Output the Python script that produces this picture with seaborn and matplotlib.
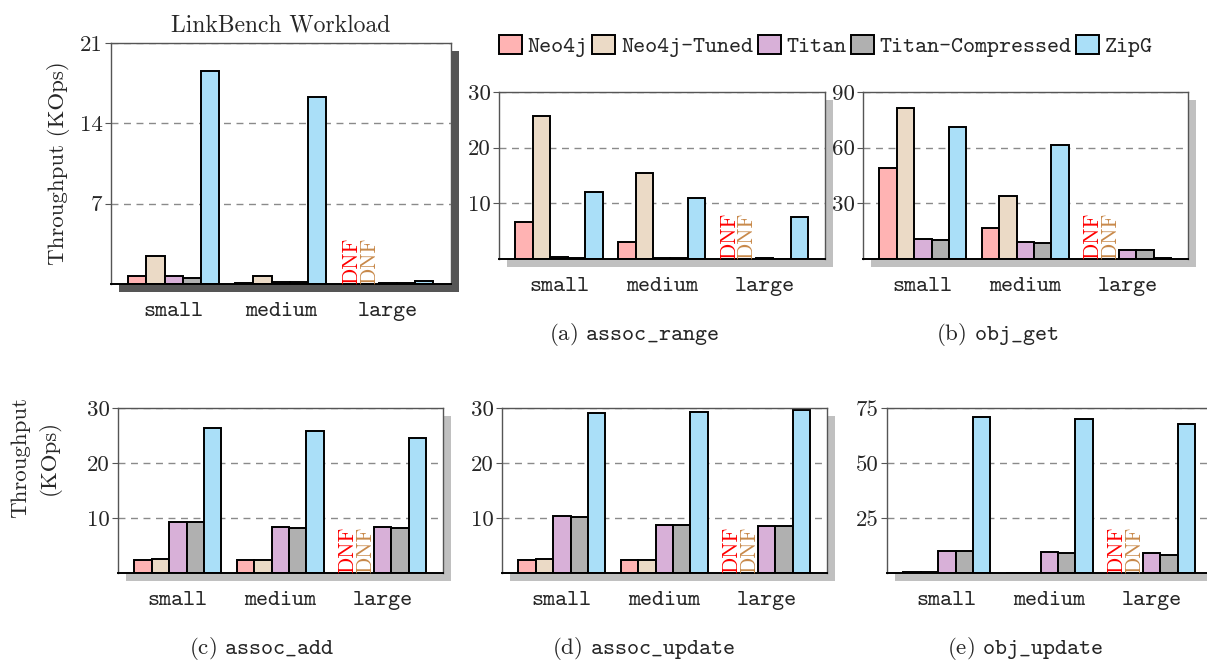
import numpy as np
import pandas as pd
import matplotlib
matplotlib.use("Agg")
import matplotlib.pyplot as plt
from matplotlib.patches import Rectangle, Patch
import seaborn as sns

NaN = np.nan
categories = ["small", "medium", "large"]
systems = ["Neo4j", "Neo4j-Tuned", "Titan", "Titan-Compressed", "ZipG"]
colors = ["#FFB3B3", "#EBDAC6", "#D8B0D8", "#B0B0B0", "#AADFF8"]

# values per system (rows) over categories (columns); NaN = DNF
linkbench = [[0.72, 0.10, NaN],
             [2.47, 0.67, NaN],
             [0.67, 0.17, 0.10],
             [0.55, 0.15, 0.06],
             [18.55, 16.3, 0.26]]
assoc_range = [[6.66, 3.1, NaN],
               [25.7, 15.5, NaN],
               [0.30, 0.18, 0.10],
               [0.24, 0.12, 0.08],
               [12.1, 10.9, 7.56]]
obj_get = [[49.0, 16.6, NaN],
           [81.2, 33.8, NaN],
           [10.8, 9.0, 4.9],
           [10.3, 8.6, 4.9],
           [70.9, 61.4, 0.36]]
assoc_add = [[2.35, 2.30, NaN],
             [2.47, 2.30, NaN],
             [9.35, 8.45, 8.45],
             [9.35, 8.10, 8.10],
             [26.3, 25.8, 24.6]]
assoc_update = [[2.40, 2.30, NaN],
                [2.50, 2.30, NaN],
                [10.4, 8.70, 8.60],
                [10.1, 8.80, 8.55],
                [29.1, 29.3, 29.6]]
obj_update = [[0.30, 0.20, NaN],
              [0.30, 0.20, NaN],
              [9.96, 9.40, 9.20],
              [9.96, 9.05, 8.30],
              [71.1, 69.9, 67.8]]

sns.set_theme(style="white")
plt.rcParams["font.family"] = ["cmr10", "DejaVu Serif"]
plt.rcParams["mathtext.fontset"] = "cm"
plt.rcParams["axes.formatter.use_mathtext"] = True

W, H = 1207, 662
fig = plt.figure(figsize=(W / 100, H / 100), dpi=100)
fig.patch.set_facecolor("white")

SERIF = 16.5
TT = 16.5
TTFAM = ["cmtt10", "DejaVu Sans Mono"]


def make_df(vals):
    rows = []
    for s, series in zip(systems, vals):
        for c, v in zip(categories, series):
            rows.append({"cat": c, "sys": s, "val": v})
    return pd.DataFrame(rows)


def panel(l, t, r, b, vals, yticks, ymax, shadow="#C0C0C0"):
    ax = fig.add_axes([l / W, 1 - b / H, (r - l) / W, (b - t) / H])
    ax.set_zorder(2)
    sh = Rectangle(((l + 8) / W, 1 - (b + 8) / H), (r - l) / W, (b - t) / H,
                   transform=fig.transFigure, facecolor=shadow,
                   edgecolor="none", zorder=0)
    fig.patches.append(sh)
    df = make_df(vals).dropna()
    sns.barplot(data=df, x="cat", y="val", hue="sys", order=categories,
                hue_order=systems, palette=colors, width=0.85, gap=0,
                edgecolor="black", linewidth=1.4, saturation=1,
                errorbar=None, legend=False, ax=ax)
    ax.set_xlim(-0.585, 2.59)
    ax.set_ylim(0, ymax)
    ax.set_yticks(yticks)
    ax.set_yticklabels([str(v) for v in yticks])
    ax.set_xlabel("")
    ax.set_ylabel("")
    ax.set_facecolor("white")
    for sp in ["top", "left", "right"]:
        ax.spines[sp].set_color("#555555")
        ax.spines[sp].set_linewidth(1.0)
    ax.spines["bottom"].set_color("black")
    ax.spines["bottom"].set_linewidth(1.4)
    ax.yaxis.grid(True, linestyle=(0, (5, 4)), color="#8a8a8a", linewidth=1.0)
    ax.set_axisbelow(True)
    ax.tick_params(axis="y", length=4, width=0.8, color="#555555", pad=2,
                   labelsize=SERIF, left=True)
    ax.tick_params(axis="x", length=0, pad=13)
    for lab in ax.get_xticklabels():
        lab.set_fontfamily(TTFAM)
        lab.set_fontsize(TT)
    # DNF marks for missing values
    nb = len(systems)
    bw = 0.85 / nb
    for i, series in enumerate(vals):
        for j, v in enumerate(series):
            if np.isnan(v):
                x = j - 0.85 / 2 + bw * (i + 0.5)
                ax.text(x, 0, "DNF", rotation=90, ha="center", va="bottom",
                        color=["#FF0000", "#C8894A"][i % 2], fontsize=15.5,
                        zorder=5)
    return ax


ax0 = panel(111, 43, 451, 284, linkbench, [7, 14, 21], 21, shadow="#555555")
ax0.set_title("LinkBench Workload", fontsize=SERIF + 0.5, pad=8)
fig.text(58 / W, 1 - 163 / H, "Throughput (KOps)", rotation=90,
         ha="center", va="center", fontsize=SERIF)

axa = panel(499, 92, 825, 259, assoc_range, [10, 20, 30], 30)
axb = panel(863, 92, 1188, 259, obj_get, [30, 60, 90], 90)
axc = panel(118, 408, 443, 573, assoc_add, [10, 20, 30], 30)
axd = panel(502, 408, 827, 573, assoc_update, [10, 20, 30], 30)
axe = panel(887, 408, 1212, 573, obj_update, [25, 50, 75], 75)

fig.text(36 / W, 1 - 457 / H, "Throughput\n(KOps)", rotation=90,
         ha="center", va="center", fontsize=SERIF, linespacing=1.45,
         multialignment="center")

captions = [(634, 335, "(a)", "assoc\\_range"), (997, 335, "(b)", "obj\\_get"),
            (262, 648, "(c)", "assoc\\_add"), (644, 648, "(d)", "assoc\\_update"),
            (1025, 648, "(e)", "obj\\_update")]
for cx, cy, tag, name in captions:
    fig.text(cx / W, 1 - cy / H, tag + " $\\mathtt{" + name + "}$",
             ha="center", va="center", fontsize=SERIF)

handles = [Patch(facecolor=c, edgecolor="black", linewidth=1.4, label=s)
           for s, c in zip(systems, colors)]
leg = fig.legend(handles=handles, loc="center left",
                 bbox_to_anchor=(499 / W, 1 - 46 / H), ncol=5, frameon=False,
                 prop={"family": TTFAM, "size": TT}, handlelength=1.0,
                 handleheight=0.95, handletextpad=0.25, columnspacing=0.2,
                 borderaxespad=0, borderpad=0)

fig.savefig("out.png", dpi=100, facecolor="white")
